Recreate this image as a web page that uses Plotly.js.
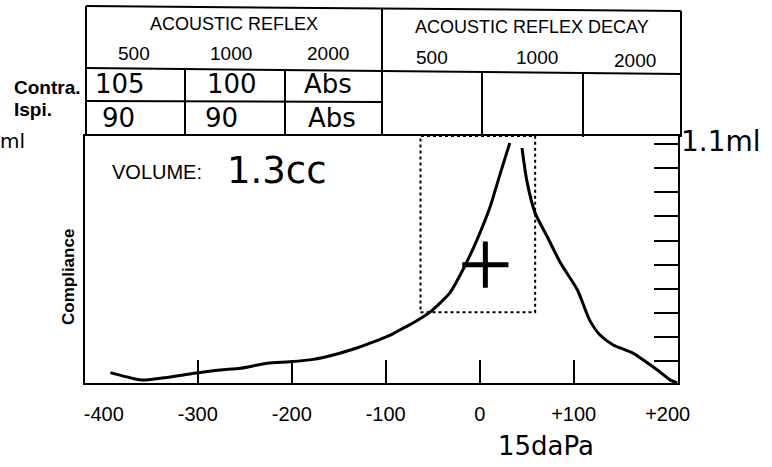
<!DOCTYPE html>
<html><head><meta charset="utf-8">
<script src="https://cdn.plot.ly/plotly-3.0.1.min.js"></script>
<style>html,body{margin:0;padding:0;background:#fff}</style>
</head><body><div id="chart" style="width:772px;height:467px"></div>
<script>
// ---- data ----
const pressure = [-393,-369,-358,-333,-304,-276,-255,-226,-202,-177,-156,-135,-113,-95,-85,-71,-53,-32,-18,-3,11,22,32,null,45,50,59,72,86,104,117,128,142,163,189,203,210];
const compliance = [0.052,0.028,0.021,0.032,0.049,0.063,0.070,0.091,0.097,0.107,0.125,0.149,0.180,0.208,0.229,0.258,0.303,0.382,0.478,0.602,0.739,0.880,1.005,null,0.984,0.851,0.714,0.615,0.507,0.395,0.270,0.208,0.167,0.133,0.063,0.021,0.009];
const pressureTicks = [-400,-300,-200,-100,0,100,200];
const pressureTickText = ['-400','-300','-200','-100','0','+100','+200'];
const innerPressureTicks = [-300,-200,-100,0,100];
const complianceTicks = [0.1,0.2,0.3,0.4,0.5,0.6,0.7,0.8,0.9,1.0];
const frequencies = ['500','1000','2000'];
const contraReflex = ['105','100','Abs'];
const ipsiReflex = ['90','90','Abs'];
const volumeValue = '1.3cc';
const peakCompliance = '1.1ml';
const gradientValue = '15daPa';
const normalBoxPressure = [-63, 59];
const normalBoxCompliance = [0.303, 1.034];
const markPressure = [6];
const markCompliance = [0.5];

// ---- layout helpers (pixel -> paper) ----
const L = 85, R = 678, T = 136, B = 383;
const W = R - L, H = B - T;
const px = x => (x - L) / W;
const py = y => (B - y) / H;
const line = (x0, y0, x1, y1, w) => ({type:'line', xref:'paper', yref:'paper',
  x0:px(x0), y0:py(y0), x1:px(x1), y1:py(y1), line:{color:'#000', width:w||2}});
const PRINT = 'Liberation Sans, Arial, sans-serif';
const HAND = 'DejaVu Sans, sans-serif';
const txt = (text, x, y, size, opts) => Object.assign({text:text, xref:'paper', yref:'paper',
  x:px(x), y:py(y), xanchor:'center', yanchor:'middle', showarrow:false,
  font:{family:PRINT, size:size, color:'#000'}}, opts||{});
const bold = s => ({font:{family:PRINT, size:s, color:'#000', weight:'bold'}});
const hand = s => ({font:{family:HAND, size:s, color:'#000'}});

const shapes = [
  line(86, 6, 681, 11),          // table top
  line(86, 6, 86, 136),          // table left
  line(681, 11, 681, 137),       // table right
  line(382, 8, 382, 136),        // divider between the two tables
  line(86, 68, 681, 74),         // header line
  line(86, 101, 382, 102),       // contra / ipsi divider
  line(185, 69, 185, 136),
  line(285, 69, 285, 136),
  line(482, 72, 482, 137),
  line(583, 73, 583, 137),
  {type:'rect', xref:'x', yref:'y', x0:normalBoxPressure[0], x1:normalBoxPressure[1],
   y0:normalBoxCompliance[0], y1:normalBoxCompliance[1], line:{color:'#000', width:2, dash:'dot'}}
];

const annotations = [
  txt('ACOUSTIC REFLEX', 234, 24, 18),
  txt('ACOUSTIC REFLEX DECAY', 532, 27, 18),
  txt('Contra.', 12, 87, 19, Object.assign({xanchor:'left'}, bold(19))),
  txt('Ispi.', 12, 109, 19, Object.assign({xanchor:'left'}, bold(19))),
  txt('Compliance', 68, 277, 17, Object.assign({textangle:-90}, bold(17))),
  txt('VOLUME:', 157, 172, 20),
  txt(volumeValue, 277, 170, 37, hand(37)),
  txt(peakCompliance, 721, 141, 28, hand(28)),
  txt('ml', 27, 141, 20, Object.assign({xanchor:'right'}, hand(20))),
  txt(gradientValue, 546, 446, 26, hand(26))
];
const leftHeadX = [134, 231, 328], rightHeadX = [432, 537, 635], rightHeadY = [58, 58, 60];
frequencies.forEach((f, i) => {
  annotations.push(txt(f, leftHeadX[i], 53, 19));
  annotations.push(txt(f, rightHeadX[i], rightHeadY[i], 19));
});
const contraX = [120, 232, 328], ipsiX = [118, 221, 332];
contraReflex.forEach((v, i) => annotations.push(txt(v, contraX[i], 84, 26, hand(26))));
ipsiReflex.forEach((v, i) => annotations.push(txt(v, ipsiX[i], 118, 26, hand(26))));

const traces = [
  {x:pressure, y:compliance, type:'scatter', mode:'lines', line:{color:'#000', width:3, shape:'spline', smoothing:0.6}, connectgaps:false, hoverinfo:'skip'},
  {x:markPressure, y:markCompliance, type:'scatter', mode:'markers',
   marker:{symbol:'cross-thin', size:33, line:{color:'#000', width:5}}, hoverinfo:'skip'}
];

const layout = {
  width:772, height:467, showlegend:false,
  paper_bgcolor:'#fff', plot_bgcolor:'#fff',
  margin:{l:L, r:772-R, t:T, b:467-B, pad:0},
  font:{family:PRINT, color:'#000'},
  xaxis:{range:[-420, 211], tickmode:'array', tickvals:pressureTicks, ticktext:pressureTickText,
    ticks:'', showgrid:false, zeroline:false, showline:true, mirror:true, linecolor:'#000', linewidth:2,
    tickfont:{size:20, color:'#000', family:PRINT}, ticklabelstandoff:12, fixedrange:true,
    minor:{tickmode:'array', tickvals:innerPressureTicks, ticks:'inside', ticklen:23, tickwidth:2, tickcolor:'#000', showgrid:false}},
  yaxis:{range:[0.009, 1.034], side:'right', tickmode:'array', tickvals:complianceTicks,
    ticks:'inside', ticklen:24, tickwidth:2, tickcolor:'#000', showticklabels:false,
    showgrid:false, zeroline:false, showline:true, mirror:true, linecolor:'#000', linewidth:2, fixedrange:true},
  shapes:shapes, annotations:annotations
};
Plotly.newPlot('chart', traces, layout, {displayModeBar:false, staticPlot:true});
</script></body></html>
